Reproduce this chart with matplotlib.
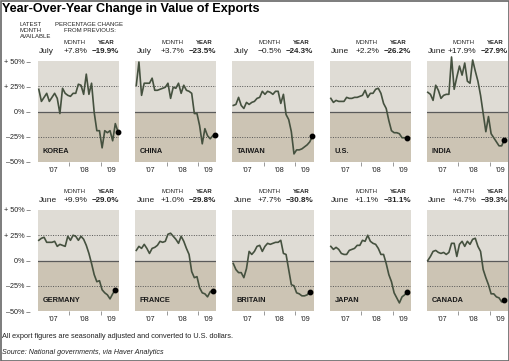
import numpy as np
import matplotlib
matplotlib.use('Agg')
from matplotlib import pyplot as plt
from matplotlib.patches import Rectangle

plt.rcParams['font.family'] = ['Liberation Sans', 'DejaVu Sans']

# monthly year-over-year change in exports, Jan 2007 onwards (%)
korea = [22, 10, 14, 18, 10, 14, 18, 13, -2, 23, 18, 16, 15, 18, 18, 27, 26, 17, 37, 17,
         28, -1, -19, -19, -36, -19, -21, -19, -29, -12, -19.9]
china = [26, 49, 16, 28, 28, 28, 33, 21, 21, 22, 23, 24, 28, 13, 24, 23, 28, 18, 26, 21,
         20, 18, -2, -2, -14, -32, -17, -24, -27, -24, -23.5]
taiwan = [6, 7, 14, 6, 3, 9, 7, 9, 10, 13, 14, 20, 17, 20, 19, 17, 20, 20, 8, 17,
          -3, -8, -20, -42, -38, -38, -37, -35, -33, -30, -24.3]
us = [13, 9, 11, 10, 10, 10, 14, 13, 13, 14, 14, 15, 16, 21, 14, 18, 18, 22, 23, 18,
      8, 3, -9, -19, -21, -21, -22, -26, -26, -26.2]
india = [19, 17, 11, 26, 21, 13, 16, 17, 17, 54, 22, 34, 45, 36, 48, 30, 28, 51, 40, 30,
         16, -2, -20, -5, -22, -26, -30, -34, -34, -27.9]
germany = [20, 22, 23, 18, 18, 18, 19, 14, 16, 15, 14, 24, 20, 25, 24, 20, 24, 21, 15, 7,
           -3, -14, -21, -20, -29, -32, -34, -38, -33, -29.0]
france = [10, 14, 12, 16, 12, 7, 12, 13, 15, 19, 18, 19, 26, 27, 24, 21, 17, 24, 19, 12,
          6, -11, -17, -16, -27, -32, -33, -36, -31, -29.8]
britain = [-3, -9, -12, -12, -17, -8, 9, 6, 9, 14, 15, 9, 14, 17, 16, 17, 18, 18, 20, 7,
           6, -9, -24, -25, -32, -33, -35, -35, -34, -30.8]
japan = [14, 11, 13, 11, 7, 6, 6, 10, 11, 12, 15, 15, 20, 19, 25, 19, 17, 16, 12, 6,
         6, -3, -14, -21, -32, -37, -42, -36, -34, -31.1]
canada = [0, 4, 9, 10, 8, 7, 8, 6, 8, 17, 17, 4, 16, 19, 14, 19, 16, 21, 22, 14,
          9, -9, -17, -24, -33, -33, -36, -37, -41, -39.3]

countries = ['KOREA', 'CHINA', 'TAIWAN', 'U.S.', 'INDIA',
             'GERMANY', 'FRANCE', 'BRITAIN', 'JAPAN', 'CANADA']
series = [korea, china, taiwan, us, india, germany, france, britain, japan, canada]
latest = ['July', 'July', 'July', 'June', 'June',
          'June', 'June', 'June', 'June', 'June']
month_chg = ['+7.8%', '+3.7%', '\u22120.5%', '+2.2%', '+17.9%',
             '+9.9%', '+1.0%', '+7.7%', '+1.1%', '+4.7%']
year_chg = ['\u221219.9%', '\u221223.5%', '\u221224.3%', '\u221226.2%', '\u221227.9%',
            '\u221229.0%', '\u221229.8%', '\u221230.8%', '\u221231.1%', '\u221239.3%']

year_labels = ['\u201907', '\u201908', '\u201909']
ytick_vals = [50, 25, 0, -25, -50]
ytick_labels = ['+ 50% \u2013', '+ 25% \u2013', '0% \u2013', '\u201325% \u2013', '\u201350% \u2013']

W, H = 510, 361
UPPER = '#dfdcd5'
LOWER = '#ccc4b4'
LINE = '#45513f'
TXT = '#222222'


def fx(x):
    return x / W


def fy(y):
    return 1 - y / H


fig = plt.figure(figsize=(W / 100, H / 100), dpi=100)
fig.patch.set_facecolor('white')

lefts = [38, 135.5, 232.5, 330, 427]
tops = [61, 210]
pw, ph = 81, 101

fig.text(fx(2), fy(9), 'Year-Over-Year Change in Value of Exports', fontsize=9.1,
         fontweight='bold', family=['Liberation Sans Narrow', 'Liberation Sans', 'DejaVu Sans'],
         va='center', ha='left', color='black')
fig.text(fx(20), fy(31), 'LATEST\nMONTH\nAVAILABLE', fontsize=4.3, va='center', ha='left',
         linespacing=1.25, color=TXT)
fig.text(fx(89.5), fy(27.5), 'PERCENTAGE CHANGE\nFROM PREVIOUS:', fontsize=4.3,
         va='center', ha='center', linespacing=1.25, color=TXT)

for i, (name, vals) in enumerate(zip(countries, series)):
    r, c = divmod(i, 5)
    left, top = lefts[c], tops[r]
    ax = fig.add_axes([fx(left), fy(top + ph), pw / W, ph / H])
    ax.axhspan(0, 50, color=UPPER, lw=0, zorder=0)
    ax.axhspan(-50, 0, color=LOWER, lw=0, zorder=0)
    ax.axhline(0, color='#5a5a5a', lw=0.9, zorder=1)
    for v in (25, -25):
        ax.axhline(v, color='#555555', lw=0.7, ls=(0, (1, 1.5)), zorder=1)
    x = np.arange(len(vals))
    ax.plot(x, vals, color=LINE, lw=1.2, zorder=3, clip_on=False)
    ax.plot(x[-1], vals[-1], 'o', color='black', ms=3.2, zorder=4, clip_on=False)
    ax.text(1.4, -40, name, fontsize=5.3, fontweight='bold', color='#1a1a1a',
            va='center', ha='left', zorder=5)
    ax.set_xlim(-0.3, 30.4)
    ax.set_ylim(-50, 50)
    for s in ax.spines.values():
        s.set_visible(False)
    ax.set_xticks([5.5, 17.5, 27.5])
    ax.set_xticklabels(year_labels, fontsize=5.2, color=TXT)
    ax.set_xticks([11.5, 23.5], minor=True)
    ax.tick_params(axis='x', which='major', length=0, pad=3.5)
    ax.tick_params(axis='x', which='minor', length=3, width=0.6, color='#888888')
    if c == 0:
        ax.set_yticks(ytick_vals)
        ax.set_yticklabels(ytick_labels, fontsize=5.2, color=TXT)
        ax.tick_params(axis='y', length=0, pad=5.5)
    else:
        ax.set_yticks([])

    right = left + pw
    fig.text(fx(left + 48), fy(top - 18.5), 'MONTH', fontsize=4.3, ha='right', va='center', color=TXT)
    fig.text(fx(right - 4), fy(top - 18.5), 'YEAR', fontsize=4.3, ha='right', va='center',
             fontweight='bold', color=TXT)
    fig.text(fx(left + 1), fy(top - 9.5), latest[i], fontsize=6, ha='left', va='center', color=TXT)
    fig.text(fx(left + 49), fy(top - 9.5), month_chg[i], fontsize=6, ha='right', va='center', color=TXT)
    fig.text(fx(right), fy(top - 9.5), year_chg[i], fontsize=5.8, ha='right', va='center',
             fontweight='bold', color=TXT)

fig.text(fx(2), fy(336), 'All export figures are seasonally adjusted and converted to U.S. dollars.',
         fontsize=5.3, ha='left', va='center', color=TXT)
fig.text(fx(2), fy(352), 'Source: National governments, via Haver Analytics',
         fontsize=5.1, ha='left', va='center', style='italic', color=TXT)

fig.add_artist(Rectangle((0.001, 0.001), 0.998, 0.997, transform=fig.transFigure,
                         fill=False, edgecolor='#666666', lw=1.2))

fig.savefig('out.png', dpi=100)
